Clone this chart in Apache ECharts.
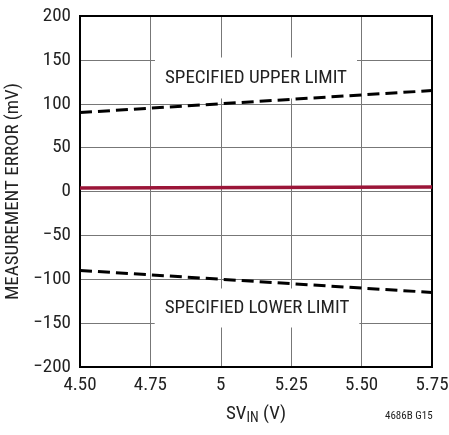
<!DOCTYPE html>
<html>
<head>
<meta charset="utf-8">
<script src="https://cdn.jsdelivr.net/npm/echarts@6/dist/echarts.min.js"></script>
<style>
  html, body { margin: 0; padding: 0; background: #fff; }
  #chart { width: 449px; height: 435px; }
</style>
</head>
<body>
<div id="chart"></div>
<script>
// supply voltage (V) and measurement error (mV)
var svIn = [4.5, 5.75];
var upperLimit = [90, 115];
var lowerLimit = [-90, -115];
var typical = [4, 5];

var xTicks = [4.5, 4.75, 5, 5.25, 5.5, 5.75];
var yTicks = [-200, -150, -100, -50, 0, 50, 100, 150, 200];

var font = '"Liberation Sans Narrow", "Roboto Condensed", Arial, sans-serif';

function pairs(xs, ys) {
    return xs.map(function (x, i) { return [x, ys[i]] })
}

var chart = echarts.init(document.getElementById('chart'))
chart.setOption({
    animation: false,
    grid: {
        left: 80,
        right: 17,
        top: 16,
        bottom: 68,
        outerBoundsMode: 'none',
        containLabel: false,
        show: true,
        borderColor: '#000',
        borderWidth: 2,
        z: 3
    },
    xAxis: {
        type: 'value',
        min: xTicks[0],
        max: xTicks[xTicks.length - 1],
        interval: 0.25,
        axisLine: { show: false },
        axisTick: { show: false },
        splitLine: { lineStyle: { color: '#777', width: 1 } },
        axisLabel: {
            color: '#222',
            fontFamily: font,
            fontSize: 19,
            margin: 9,
            formatter: function (v) { return v === 5 ? '5' : v.toFixed(2) }
        },
        name: '{a|SV}{b|IN}{a| (V)}',
        nameLocation: 'middle',
        nameGap: 37,
        nameTextStyle: {
            rich: {
                a: { fontFamily: font, fontSize: 19, color: '#222' },
                b: { fontFamily: font, fontSize: 14, color: '#222', verticalAlign: 'bottom', padding: [7, 0, 0, 0] }
            }
        }
    },
    yAxis: {
        type: 'value',
        min: yTicks[0],
        max: yTicks[yTicks.length - 1],
        interval: 50,
        axisLine: { show: false },
        axisTick: { show: false },
        splitLine: { lineStyle: { color: '#777', width: 1 } },
        axisLabel: {
            color: '#222',
            fontFamily: font,
            fontSize: 19,
            margin: 9,
            formatter: function (v) { return String(v).replace('-', '\u2212') }
        },
        name: 'MEASUREMENT ERROR (mV)',
        nameLocation: 'middle',
        nameGap: 55,
        nameTextStyle: { fontFamily: font, fontSize: 19, color: '#222' }
    },
    series: [
        {
            type: 'line',
            data: pairs(svIn, upperLimit),
            symbol: 'none',
            z: 4,
            lineStyle: { color: '#000', width: 3, type: [12, 6] }
        },
        {
            type: 'line',
            data: pairs(svIn, lowerLimit),
            symbol: 'none',
            z: 4,
            lineStyle: { color: '#000', width: 3, type: [12, 6] }
        },
        {
            type: 'line',
            data: pairs(svIn, typical),
            symbol: 'none',
            z: 4,
            lineStyle: { color: '#9b1538', width: 3.5 }
        }
    ],
    graphic: [
        {
            type: 'text',
            x: 256,
            y: 78,
            z: 2,
            style: {
                text: 'SPECIFIED UPPER LIMIT',
                font: '19px ' + font,
                fill: '#222',
                align: 'center',
                verticalAlign: 'middle',
                backgroundColor: '#fff',
                padding: [14, 10, 8, 10]
            }
        },
        {
            type: 'text',
            x: 257,
            y: 308,
            z: 2,
            style: {
                text: 'SPECIFIED LOWER LIMIT',
                font: '19px ' + font,
                fill: '#222',
                align: 'center',
                verticalAlign: 'middle',
                backgroundColor: '#fff',
                padding: [10, 10, 10, 10]
            }
        },
        {
            type: 'text',
            left: 385,
            top: 411,
            style: {
                text: '4686B G15',
                font: '11px ' + font,
                fill: '#222'
            }
        }
    ]
})
</script>
</body>
</html>
